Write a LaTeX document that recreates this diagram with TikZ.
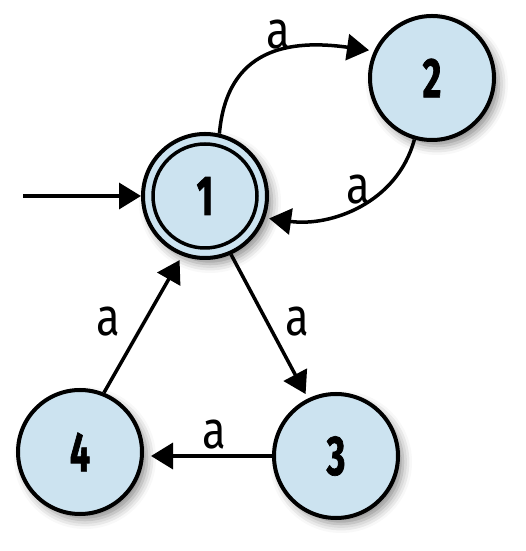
\documentclass[tikz,border=0pt]{standalone}
\usepackage{fontspec}
\newfontfamily\labfont{Fira Sans}[FakeStretch=0.82]
\newfontfamily\numfont{Fira Sans}[FakeStretch=0.64, FakeBold=1.2]
\usetikzlibrary{arrows.meta,shadows.blur}
\definecolor{nodeblue}{RGB}{204,227,240}
\begin{document}
\begin{tikzpicture}[x=1pt,y=1pt,
  state/.style={circle, draw=black, line width=4pt, fill=nodeblue,
    minimum size=124pt, inner sep=0pt,
    font=\numfont\bfseries\fontsize{56}{56}\selectfont,
    blur shadow={shadow xshift=5pt, shadow yshift=-6pt, shadow blur radius=9pt, shadow opacity=45}},
  edge/.style={line width=3.5pt, -{Triangle[length=22pt,width=26pt]}, shorten >=5pt},
  lab/.style={inner sep=0pt, font=\labfont\fontsize{53}{53}\selectfont}
]
\useasboundingbox (0,0) rectangle (525,551);
\node[state] (n1) at (205,355) {1};
\draw[line width=3.5pt] (n1.center) circle (52pt);
\node[state] (n2) at (432,473) {2};
\node[state] (n3) at (336,95) {3};
\node[state] (n4) at (80,99) {4};
\coordinate (s) at (23,355);
\draw[edge, shorten >=0pt] (s) -- (n1);
\draw[edge] (n1.77) to[out=85,in=172,looseness=1.25] (n2.155);
\draw[edge, shorten >=4pt] (n2.254) to[out=255,in=-8] (n1.340);
\draw[edge] (n1.-66) -- (n3.116);
\draw[edge] (n4.68) -- (n1.249);
\draw[edge, shorten >=7pt] (n3.west) -- (n3.west -| n4.east);
\node[lab] (l12) at (278,516) {a};
\node[lab] (l21) at (358,361) {a};
\node[lab] (l13) at (297,229) {a};
\node[lab] (l41) at (108,229) {a};
\node[lab] (l34) at (214,116) {a};
\end{tikzpicture}
\end{document}
